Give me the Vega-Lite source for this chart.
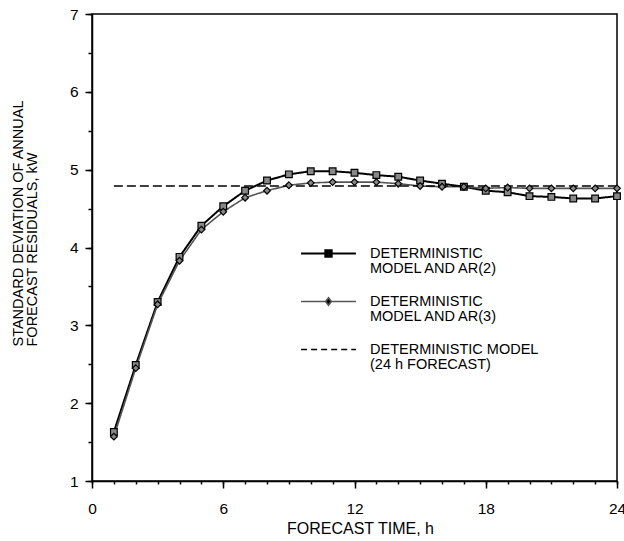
{
  "$schema": "https://vega.github.io/schema/vega-lite/v6.json",
  "width": 525,
  "height": 467,
  "autosize": {"type": "none"},
  "padding": {"left": 92, "top": 14, "right": 7, "bottom": 60},
  "background": "white",
  "config": {
    "view": {"stroke": "#000", "strokeWidth": 1.5},
    "font": "Liberation Sans",
    "axis": {
      "grid": false,
      "labelFont": "Liberation Sans",
      "titleFont": "Liberation Sans",
      "labelColor": "#000",
      "titleColor": "#000",
      "tickColor": "#000",
      "domainColor": "#000",
      "domainWidth": 1.5,
      "tickWidth": 1.5,
      "labelFlush": false,
      "labelOverlap": false,
      "labelBound": false,
      "titleFontWeight": "normal"
    }
  },
  "data": {
    "values": [
      {"h": 1, "v": 1.63, "series": "AR(2)"},
      {"h": 2, "v": 2.49, "series": "AR(2)"},
      {"h": 3, "v": 3.30, "series": "AR(2)"},
      {"h": 4, "v": 3.88, "series": "AR(2)"},
      {"h": 5, "v": 4.28, "series": "AR(2)"},
      {"h": 6, "v": 4.53, "series": "AR(2)"},
      {"h": 7, "v": 4.73, "series": "AR(2)"},
      {"h": 8, "v": 4.86, "series": "AR(2)"},
      {"h": 9, "v": 4.94, "series": "AR(2)"},
      {"h": 10, "v": 4.98, "series": "AR(2)"},
      {"h": 11, "v": 4.98, "series": "AR(2)"},
      {"h": 12, "v": 4.96, "series": "AR(2)"},
      {"h": 13, "v": 4.93, "series": "AR(2)"},
      {"h": 14, "v": 4.91, "series": "AR(2)"},
      {"h": 15, "v": 4.86, "series": "AR(2)"},
      {"h": 16, "v": 4.82, "series": "AR(2)"},
      {"h": 17, "v": 4.78, "series": "AR(2)"},
      {"h": 18, "v": 4.73, "series": "AR(2)"},
      {"h": 19, "v": 4.71, "series": "AR(2)"},
      {"h": 20, "v": 4.66, "series": "AR(2)"},
      {"h": 21, "v": 4.65, "series": "AR(2)"},
      {"h": 22, "v": 4.63, "series": "AR(2)"},
      {"h": 23, "v": 4.63, "series": "AR(2)"},
      {"h": 24, "v": 4.66, "series": "AR(2)"},
      {"h": 1, "v": 1.57, "series": "AR(3)"},
      {"h": 2, "v": 2.45, "series": "AR(3)"},
      {"h": 3, "v": 3.27, "series": "AR(3)"},
      {"h": 4, "v": 3.83, "series": "AR(3)"},
      {"h": 5, "v": 4.23, "series": "AR(3)"},
      {"h": 6, "v": 4.46, "series": "AR(3)"},
      {"h": 7, "v": 4.64, "series": "AR(3)"},
      {"h": 8, "v": 4.73, "series": "AR(3)"},
      {"h": 9, "v": 4.80, "series": "AR(3)"},
      {"h": 10, "v": 4.83, "series": "AR(3)"},
      {"h": 11, "v": 4.84, "series": "AR(3)"},
      {"h": 12, "v": 4.84, "series": "AR(3)"},
      {"h": 13, "v": 4.84, "series": "AR(3)"},
      {"h": 14, "v": 4.82, "series": "AR(3)"},
      {"h": 15, "v": 4.79, "series": "AR(3)"},
      {"h": 16, "v": 4.78, "series": "AR(3)"},
      {"h": 17, "v": 4.78, "series": "AR(3)"},
      {"h": 18, "v": 4.76, "series": "AR(3)"},
      {"h": 19, "v": 4.77, "series": "AR(3)"},
      {"h": 20, "v": 4.76, "series": "AR(3)"},
      {"h": 21, "v": 4.76, "series": "AR(3)"},
      {"h": 22, "v": 4.76, "series": "AR(3)"},
      {"h": 23, "v": 4.76, "series": "AR(3)"},
      {"h": 24, "v": 4.76, "series": "AR(3)"},
      {"h": 1, "v": 4.79, "series": "24h"},
      {"h": 24, "v": 4.79, "series": "24h"}
    ]
  },
  "resolve": {"axis": {"x": "independent", "y": "independent"}},
  "layer": [
    {
      "mark": {"type": "line"},
      "encoding": {
        "x": {
          "field": "h", "type": "quantitative",
          "scale": {"domain": [0, 24], "nice": false, "zero": false},
          "axis": {
            "orient": "bottom",
            "values": [0, 6, 12, 18, 24],
            "tickSize": 7,
            "labelPadding": 13,
            "labelFontSize": 15.5,
            "title": "FORECAST TIME, h",
            "titleFontSize": 16,
            "titleBaseline": "alphabetic",
            "titleAlign": "center",
            "titleX": 268,
            "titleY": 52
          }
        },
        "y": {
          "field": "v", "type": "quantitative",
          "scale": {"domain": [1, 7], "nice": false, "zero": false},
          "axis": {
            "orient": "left",
            "values": [1, 2, 3, 4, 5, 6, 7],
            "format": "d",
            "tickSize": 7,
            "labelPadding": 7,
            "labelFontSize": 15.5,
            "title": ["STANDARD DEVIATION OF ANNUAL", "FORECAST RESIDUALS, kW"],
            "titleFontSize": 14.5,
            "titleLineHeight": 14,
            "titleAngle": 270,
            "titleAlign": "left",
            "titleBaseline": "alphabetic",
            "titleX": -70,
            "titleY": 332
          }
        },
        "color": {
          "field": "series", "type": "nominal",
          "scale": {"domain": ["AR(2)", "AR(3)", "24h"], "range": ["#000000", "#555555", "#000000"]},
          "legend": {
            "orient": "none",
            "legendX": 211,
            "legendY": 214,
            "title": null,
            "padding": 0,
            "rowPadding": 0,
            "symbolSize": 2400,
            "labelOffset": 16,
            "labelFontSize": 14.5,
            "labelFont": "Liberation Sans",
            "labelColor": "#000",
            "labelLimit": 400,
            "labelExpr": "datum.label === 'AR(2)' ? ['DETERMINISTIC', 'MODEL AND AR(2)'] : datum.label === 'AR(3)' ? ['DETERMINISTIC', 'MODEL AND AR(3)'] : ['DETERMINISTIC MODEL', '(24 h FORECAST)']",
            "encode": {
              "symbols": {
                "update": {
                  "shape": {"signal": "datum.value === 'AR(2)' ? 'M-1.12,0H-0.13M0.13,0H1.12M-0.13,-0.13H0.13V0.13H-0.13Z' : datum.value === 'AR(3)' ? 'M-1.12,0H-0.12M0.12,0H1.12M0,-0.15L0.12,0L0,0.15L-0.12,0Z' : 'M-1.12,0H-0.875M-0.71,0H-0.465M-0.3,0H-0.055M0.11,0H0.355M0.52,0H0.765M0.93,0H1.12'"},
                  "fill": {"value": "#000"},
                  "strokeWidth": {"value": 1.6},
                  "strokeDash": {"value": []}
                }
              },
              "labels": {"update": {"lineHeight": {"value": 15.5}}}
            }
          }
        },
        "strokeDash": {
          "field": "series", "type": "nominal",
          "scale": {"domain": ["AR(2)", "AR(3)", "24h"], "range": [[1, 0], [1, 0], [9, 4]]},
          "legend": null
        },
        "strokeWidth": {
          "field": "series", "type": "ordinal",
          "scale": {"type": "ordinal", "domain": ["AR(2)", "AR(3)", "24h"], "range": [2, 1.6, 1.4]},
          "legend": null
        }
      }
    },
    {
      "transform": [{"filter": "datum.series !== '24h'"}],
      "mark": {"type": "point", "filled": true, "fill": "#888888", "stroke": "#000000", "strokeWidth": 1.2, "size": 45, "opacity": 1},
      "encoding": {
        "x": {
          "field": "h", "type": "quantitative",
          "axis": {
            "orient": "bottom",
            "values": [0, 1, 2, 3, 4, 5, 6, 7, 8, 9, 10, 11, 12, 13, 14, 15, 16, 17, 18, 19, 20, 21, 22, 23, 24],
            "labels": false,
            "domain": false,
            "tickSize": 3,
            "title": null
          }
        },
        "y": {
          "field": "v", "type": "quantitative",
          "axis": {
            "orient": "left",
            "values": [1, 1.5, 2, 2.5, 3, 3.5, 4, 4.5, 5, 5.5, 6, 6.5, 7],
            "labels": false,
            "domain": false,
            "tickSize": 4,
            "title": null
          }
        },
        "shape": {
          "field": "series", "type": "nominal",
          "scale": {"domain": ["AR(2)", "AR(3)"], "range": ["square", "diamond"]},
          "legend": null
        }
      }
    }
  ]
}
